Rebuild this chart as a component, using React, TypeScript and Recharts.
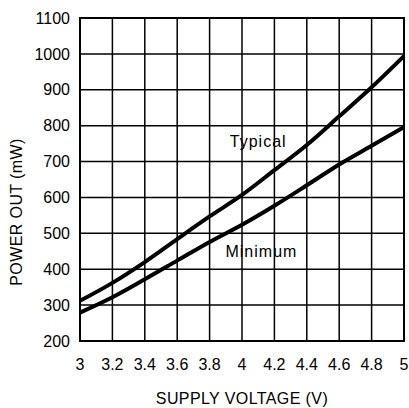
import { CartesianGrid, Label, Line, LineChart, ReferenceArea, ReferenceDot, XAxis, YAxis } from "recharts"

const VOLTAGE = [3, 3.2, 3.4, 3.6, 3.8, 4, 4.2, 4.4, 4.6, 4.8, 5]
const TYPICAL = [312, 362, 420, 484, 547, 607, 676, 746, 826, 907, 994]
const MINIMUM = [279, 322, 372, 424, 476, 524, 577, 634, 692, 744, 796]

const X_TICKS = [3, 3.2, 3.4, 3.6, 3.8, 4, 4.2, 4.4, 4.6, 4.8, 5]
const Y_TICKS = [200, 300, 400, 500, 600, 700, 800, 900, 1000, 1100]

const data = VOLTAGE.map((v, i) => ({ v, typical: TYPICAL[i], minimum: MINIMUM[i] }))

const FONT = "'Liberation Sans', Arial, sans-serif"
const tickStyle = { fill: "#000", fontSize: 16, fontFamily: FONT }

export default function App() {
  return (
    <div style={{ position: "absolute", left: 0, top: 0, background: "#fff" }}>
      <LineChart width={409} height={408} data={data} margin={{ top: 18, right: 5, bottom: 0, left: 0 }}>
        <CartesianGrid stroke="#000" strokeWidth={1.5} />
        <XAxis
          dataKey="v"
          type="number"
          domain={[3, 5]}
          ticks={X_TICKS}
          interval={0}
          height={67}
          axisLine={false}
          tickLine={false}
          tickMargin={12}
          tick={tickStyle}
        >
          <Label
            value="SUPPLY VOLTAGE (V)"
            position="insideBottom"
            offset={4}
            style={{ fill: "#000", fontSize: 16, fontFamily: FONT, letterSpacing: 0.4 }}
          />
        </XAxis>
        <YAxis
          type="number"
          domain={[200, 1100]}
          ticks={Y_TICKS}
          interval={0}
          width={80}
          axisLine={false}
          tickLine={false}
          tickMargin={4}
          tick={tickStyle}
        >
          <Label
            content={() => (
              <text
                x={22}
                y={212}
                transform="rotate(-90 22 212)"
                textAnchor="middle"
                style={{ fill: "#000", fontSize: 16, fontFamily: FONT, letterSpacing: 0.4 }}
              >
                POWER OUT (mW)
              </text>
            )}
          />
        </YAxis>
        <ReferenceArea x1={3} x2={5} y1={200} y2={1100} fill="none" stroke="#000" strokeWidth={2} />
        <Line type="monotone" dataKey="typical" stroke="#000" strokeWidth={4} dot={false} isAnimationActive={false} />
        <Line type="monotone" dataKey="minimum" stroke="#000" strokeWidth={4} dot={false} isAnimationActive={false} />
        <ReferenceDot
          x={4.1}
          y={756}
          r={0}
          fill="none"
          stroke="none"
          label={{ value: "Typical", position: "center", fill: "#000", fontSize: 16, fontFamily: FONT, letterSpacing: 1 }}
        />
        <ReferenceDot
          x={4.12}
          y={450}
          r={0}
          fill="none"
          stroke="none"
          label={{ value: "Minimum", position: "center", fill: "#000", fontSize: 16, fontFamily: FONT, letterSpacing: 1 }}
        />
      </LineChart>
    </div>
  )
}
